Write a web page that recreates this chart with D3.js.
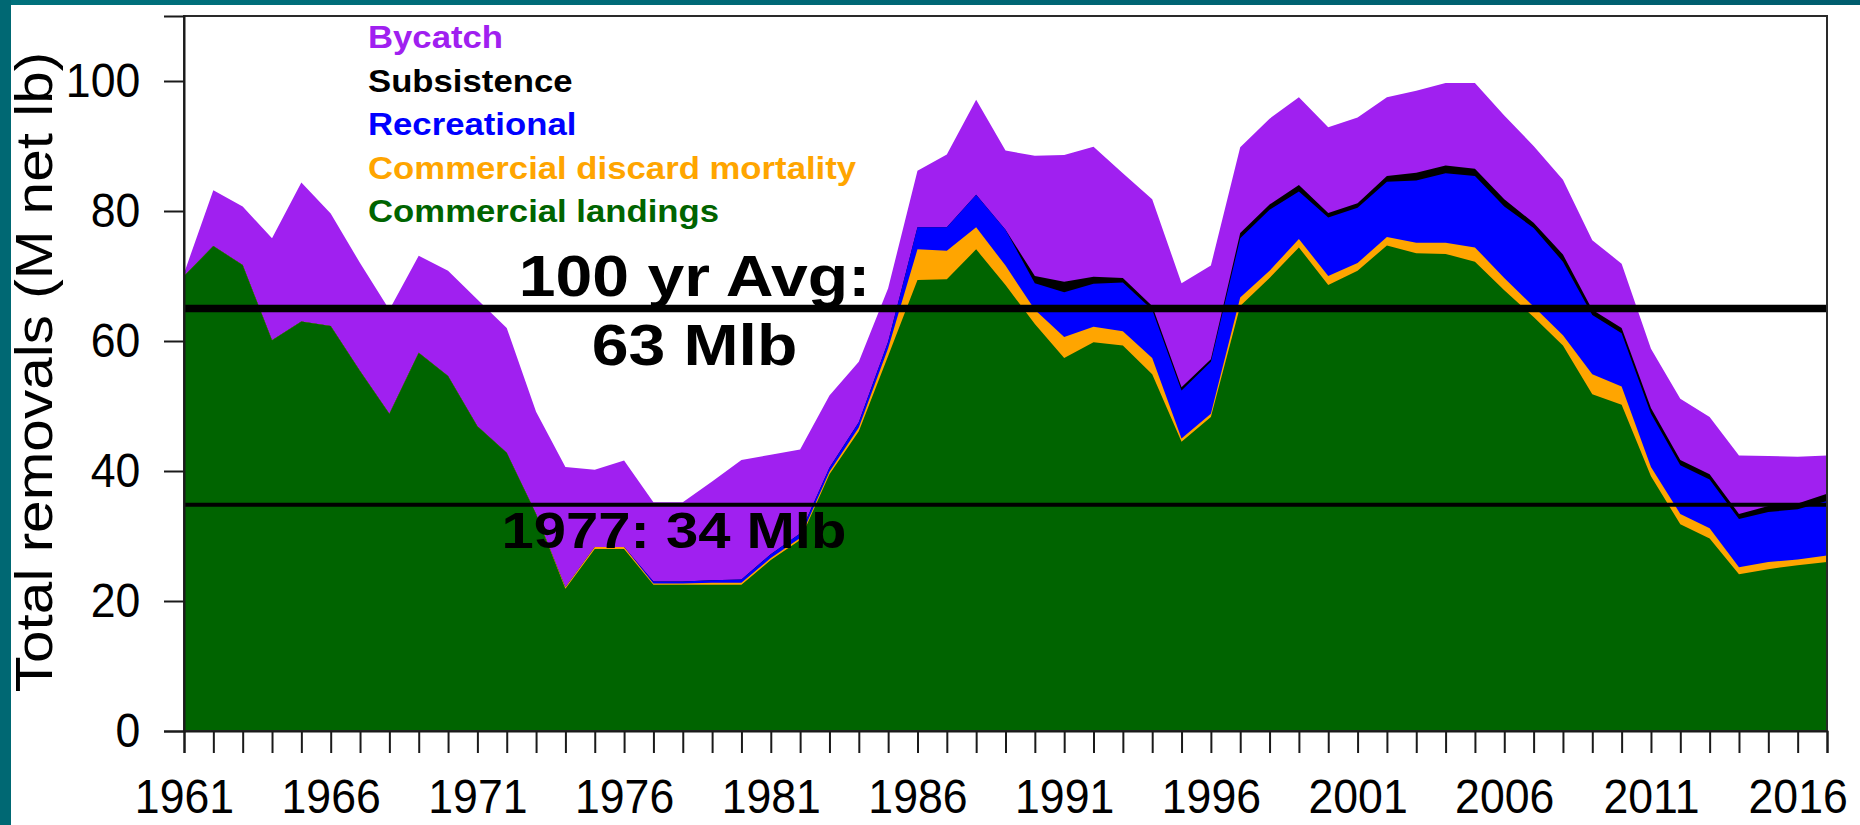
<!DOCTYPE html>
<html>
<head>
<meta charset="utf-8">
<script src="https://cdnjs.cloudflare.com/ajax/libs/d3/7.8.5/d3.min.js"></script>
<style>
  body { margin: 0; background: #fff; }
  svg text { font-family: "Liberation Sans", Arial, sans-serif; }
</style>
</head>
<body>
<script>
// years 1961..2017
const years = d3.range(1961, 2018);

// M net lb
const landings = [70.0, 74.6, 71.7, 60.1, 63.0, 62.3, 55.4, 48.8, 58.2, 54.6,
  46.9, 42.8, 33.4, 21.9, 28.0, 28.0, 22.5, 22.5, 22.5, 22.5,
  26.3, 29.4, 39.5, 46.1, 57.7, 69.4, 69.5, 74.1, 68.6, 62.6,
  57.4, 59.8, 59.3, 54.9, 44.5, 48.3, 65.4, 69.7, 74.4, 68.6,
  70.8, 74.7, 73.5, 73.4, 72.2, 67.8, 63.7, 59.3, 51.8, 50.2,
  39.2, 31.8, 29.6, 24.1, 24.9, 25.5, 26.0];
const discard = [0, 0, 0, 0, 0, 0, 0, 0, 0, 0,
  0, 0, 0, 0.2, 0.3, 0.3, 0.2, 0.2, 0.3, 0.3,
  0.3, 0.3, 0.4, 0.6, 1.2, 4.7, 4.4, 3.4, 3.0, 2.2,
  3.2, 2.4, 2.2, 2.5, 0.5, 0.5, 1.3, 1.1, 1.3, 1.4,
  1.2, 1.3, 1.6, 1.7, 2.2, 1.9, 1.6, 1.6, 3.1, 2.8,
  1.4, 1.6, 1.6, 1.1, 1.1, 0.9, 1.0];
const recreational = [0, 0, 0, 0, 0, 0, 0, 0, 0, 0,
  0, 0, 0, 0, 0, 0, 0.3, 0.3, 0.4, 0.5,
  0.6, 0.7, 0.6, 0.8, 1.0, 3.4, 3.6, 5.0, 5.5, 4.1,
  6.9, 6.6, 7.5, 7.4, 7.4, 8.0, 9.1, 9.4, 7.3, 9.0,
  8.5, 8.5, 9.6, 10.7, 11.0, 11.0, 12.1, 11.3, 9.1, 8.2,
  8.2, 7.5, 7.5, 7.4, 7.7, 7.7, 8.4];
const subsistence = [0, 0, 0, 0, 0, 0, 0, 0, 0, 0,
  0, 0, 0, 0, 0, 0, 0, 0, 0, 0,
  0, 0, 0, 0, 0, 0, 0, 0, 0, 1.1,
  1.6, 1.1, 0.7, 0.6, 0.5, 0.4, 0.8, 0.8, 1.0, 0.7,
  0.7, 0.9, 1.2, 1.2, 1.1, 1.1, 0.8, 1.1, 0.8, 0.8,
  0.9, 0.8, 0.8, 0.8, 0.9, 0.9, 1.1];
const bycatch = [0.4, 8.6, 9.0, 15.7, 21.4, 17.3, 16.6, 16.0, 14.9, 16.2,
  19.5, 19.2, 15.7, 18.5, 11.9, 13.3, 12.2, 12.2, 15.2, 18.4,
  15.3, 12.9, 11.1, 9.3, 8.2, 8.7, 11.2, 14.6, 12.2, 18.5,
  19.5, 20.0, 16.1, 16.4, 16.0, 14.4, 13.2, 13.2, 13.5, 13.2,
  13.2, 12.1, 12.6, 12.7, 13.2, 12.9, 11.8, 11.5, 10.7, 9.9,
  9.1, 9.4, 8.8, 9.0, 7.7, 7.2, 5.9];

const seriesNames = ["Commercial landings", "Commercial discard mortality", "Recreational", "Subsistence", "Bycatch"];
const seriesColors = ["#006400", "#FFA500", "#0000FF", "#000000", "#A020F0"];
const yTicks = [0, 20, 40, 60, 80, 100];
const avgLevel = 65;      // "100 yr Avg: 63 Mlb"
const level1977 = 34.8;   // "1977: 34 Mlb"

const w = 1860;
const h = 825;

const svg = d3.select('body')
  .append('svg')
  .attr('width', w)
  .attr('height', h)

// slide frame
const grad = svg.append('defs').append('linearGradient').attr('id', 'bar')
grad.append('stop').attr('offset', '0%').attr('stop-color', '#00717c')
grad.append('stop').attr('offset', '100%').attr('stop-color', '#005d6e')
svg.append('rect').attr('x', 0).attr('y', 0).attr('width', w).attr('height', 5).attr('fill', 'url(#bar)')
svg.append('rect').attr('x', 0).attr('y', 0).attr('width', 11).attr('height', h).attr('fill', '#006873')

const xScale = d3.scaleLinear()
  .domain([1961, 2017])
  .range([184, 1827])

const yScale = d3.scaleLinear()
  .domain([0, 110])
  .range([731, 16])

const table = years.map(function(y, i) {
  return {year: y, "Commercial landings": landings[i], "Commercial discard mortality": discard[i],
    "Recreational": recreational[i], "Subsistence": subsistence[i], "Bycatch": bycatch[i]}
})

const stacked = d3.stack().keys(seriesNames)(table)

// cumulative polygons painted top layer first, like the original plot
const area = d3.area()
  .x(function(d) { return xScale(d.data.year) })
  .y0(yScale(0))
  .y1(function(d) { return yScale(d[1]) })

svg.append('g')
  .selectAll('path')
  .data(stacked.slice().reverse())
  .enter().append('path')
  .attr('d', area)
  .attr('fill', function(d) { return seriesColors[d.index] })

// reference lines
svg.append('line')
  .attr('x1', xScale(1961)).attr('x2', xScale(2017))
  .attr('y1', yScale(avgLevel)).attr('y2', yScale(avgLevel))
  .attr('stroke', '#000').attr('stroke-width', 7.5)
svg.append('line')
  .attr('x1', xScale(1961)).attr('x2', xScale(2017))
  .attr('y1', yScale(level1977)).attr('y2', yScale(level1977))
  .attr('stroke', '#000').attr('stroke-width', 4)

// plot box
svg.append('rect')
  .attr('x', xScale(1961)).attr('y', yScale(110))
  .attr('width', xScale(2017) - xScale(1961))
  .attr('height', yScale(0) - yScale(110))
  .attr('fill', 'none').attr('stroke', '#2a2a2a').attr('stroke-width', 2)

// axes
const xAxis = d3.axisBottom(xScale)
  .tickValues(years)
  .tickSize(22)
  .tickPadding(26)
  .tickFormat(function(d) { return (d - 1961) % 5 === 0 ? d : '' })
const yAxis = d3.axisLeft(yScale)
  .tickValues(yTicks)
  .tickSize(20)
  .tickPadding(27)

svg.append('g')
  .attr('transform', 'translate(0,' + yScale(0) + ')')
  .call(xAxis)
  .attr('id', 'x-axis')
svg.append('g')
  .attr('transform', 'translate(' + xScale(1961) + ',0)')
  .call(yAxis)
  .attr('id', 'y-axis')

svg.selectAll('.domain').attr('stroke', '#1a1a1a').attr('stroke-width', 2)
svg.selectAll('.tick line').attr('stroke', '#1a1a1a').attr('stroke-width', 2)
// the R picture was squeezed a little sideways when pasted in
svg.selectAll('.tick text')
  .attr('font-family', '"Liberation Sans", Arial, sans-serif')
  .attr('font-size', 48)
  .attr('transform', 'scale(0.93,1)')
  .attr('fill', '#000')

// y-axis label
svg.append('text')
  .attr('transform', 'translate(52,372) rotate(-90) scale(1,0.88)')
  .attr('text-anchor', 'middle')
  .attr('font-size', 58.5)
  .text('Total removals (M net lb)')

// legend (text only, bold)
const legendOrder = ["Bycatch", "Subsistence", "Recreational", "Commercial discard mortality", "Commercial landings"];
const legend = svg.selectAll('.legend')
  .data(legendOrder)
  .enter().append('g')
  .attr('class', 'legend')
  .attr('transform', function(d, i) { return 'translate(368,' + (48 + i * 43.5) + ') scale(1.12,1)' })
legend.append('text')
  .attr('font-size', 31)
  .attr('font-weight', 'bold')
  .attr('fill', function(d) { return seriesColors[seriesNames.indexOf(d)] })
  .text(function(d) { return d })

// annotations
function note(txt, cx, baseline, size) {
  svg.append('g')
    .attr('transform', 'translate(' + cx + ',' + baseline + ') scale(1.16,1)')
    .append('text')
    .attr('text-anchor', 'middle')
    .attr('font-size', size)
    .attr('font-weight', 'bold')
    .text(txt)
}
note('100 yr Avg:', xScale(1978.4), yScale(66.9), 57)
note('63 Mlb', xScale(1978.4), yScale(56.3), 57)
note('1977: 34 Mlb', xScale(1977.7), yScale(28.2), 50)
</script>
</body>
</html>
